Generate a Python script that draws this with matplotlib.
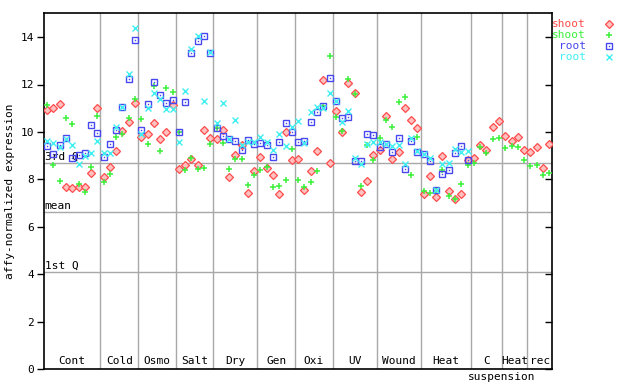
import numpy as np
import matplotlib
matplotlib.use("Agg")
import matplotlib.pyplot as plt

plt.rcParams['font.family'] = ['DejaVu Sans Mono']

groups = ["Cont", "Cold", "Osmo", "Salt", "Dry", "Gen", "Oxi", "UV",
          "Wound", "Heat", "C", "Heat", "rec"]
group_sizes = [9, 6, 6, 6, 7, 6, 6, 7, 7, 8, 5, 4, 4]

shoot_red = [10.91, 11.01, 11.17, 7.68, 7.63, 7.70, 7.69, 8.27, 11.01,
             8.10, 8.52, 9.19, 10.05, 10.42, 11.22,
             9.78, 9.92, 10.37, 9.70, 9.99, 11.15,
             8.43, 8.62, 8.86, 8.59, 10.08, 9.74,
             9.70, 10.08, 8.10, 9.03, 9.45, 7.42, 8.36,
             8.94, 8.48, 8.18, 7.38, 9.99, 8.81,
             8.86, 7.55, 8.35, 9.19, 12.19, 8.69,
             10.88, 9.99, 12.06, 11.64, 7.47, 7.93, 9.02,
             9.24, 10.68, 8.86, 9.15, 11.01, 10.50, 10.16,
             7.38, 8.14, 7.25, 8.98, 7.51, 7.17, 7.38, 8.81,
             8.90, 9.45, 9.24, 10.21, 10.46,
             9.83, 9.62, 9.78, 9.24,
             9.15, 9.36, 8.48, 9.49]

shoot_green = [11.15, 8.60, 7.94, 10.58, 10.33, 7.80, 7.48, 8.52, 10.68,
               7.89, 8.22, 9.78, 9.92, 10.58, 11.39,
               10.54, 9.49, 11.92, 9.19, 11.85, 11.68,
               9.99, 8.39, 8.90, 8.43, 8.48, 9.49,
               10.16, 9.53, 8.43, 8.88, 8.86, 7.76, 8.18,
               8.39, 8.52, 7.68, 7.72, 7.97, 9.28,
               7.97, 7.68, 7.89, 8.35, 11.09, 13.20,
               10.63, 10.04, 12.23, 11.60, 7.72, 9.45, 8.81,
               9.74, 10.50, 10.21, 11.26, 11.47, 8.18, 9.78,
               7.51, 7.42, 7.51, 8.39, 7.30, 7.17, 7.80, 8.60,
               8.69, 9.36, 9.11, 9.70, 9.74,
               9.32, 9.40, 9.36, 8.81,
               8.56, 8.60, 8.18, 8.27]

nan = np.nan
root_blue = [9.42, 9.07, 9.45, 9.73, 8.90, 9.03, 9.12, 10.30, 9.95,
             8.93, 9.49, 10.08, 11.05, 12.23, 13.87,
             10.08, 11.17, 12.10, 11.55, 11.22, 11.34,
             9.99, 11.26, 13.32, 13.83, 14.04, 13.31,
             10.16, 9.83, 9.70, 9.62, 9.24, 9.66, 9.49,
             9.53, 9.45, 8.94, 9.57, 10.37, 9.99,
             9.57, 9.62, 10.42, 10.84, 11.09, 12.27,
             11.30, 10.58, 10.63, 8.77, 8.77, 9.91, 9.87,
             9.35, 9.49, 9.15, 9.74, 8.46, 9.62, 9.15,
             9.07, 8.77, 7.55, 8.22, 8.39, 9.11, 9.40, 8.81,
             nan, nan, nan, nan, nan,
             nan, nan, nan, nan,
             nan, nan, nan, nan]

root_cyan = [9.64, 9.54, 9.35, 9.71, 9.45, 8.67, 8.98, 9.12, 9.61,
             9.12, 9.12, 10.22, 11.05, 12.44, 14.38,
             9.91, 11.01, 11.64, 11.37, 10.96, 10.96,
             9.59, 11.72, 13.48, 14.04, 11.32, 13.37,
             10.37, 11.22, 9.70, 10.50, 9.45, 9.59, 9.56,
             9.78, 9.59, 9.24, 9.91, 9.40, 10.21,
             10.46, 9.53, 10.84, 11.05, 11.01, 11.64,
             11.30, 10.42, 10.88, 8.90, 8.65, 9.49, 9.57,
             9.57, 9.49, 9.40, 9.45, 8.65, 9.74, 9.19,
             9.07, 8.90, 7.55, 8.65, 8.69, 9.28, 9.15, 9.19,
             nan, nan, nan, nan, nan,
             nan, nan, nan, nan,
             nan, nan, nan, nan]

ref_lines = {"3rd Q": 8.68, "mean": 6.61, "1st Q": 4.08}

RED = "#ff4c4c"
GREEN = "#3cf03c"
BLUE = "#4848f0"
CYAN = "#40f0f0"
GRID = "#a8a8a8"

MK_RED = dict(marker='D', ms=3.6, mfc='#ffc0c0', mec=RED, mew=0.9)
MK_GREEN = dict(marker='+', ms=5.0, mec=GREEN, mew=1.1)
MK_BLUE = dict(marker='s', ms=3.9, mfc='none', mec=BLUE, mew=1.0)
MK_BLUE_DOT = dict(marker='s', ms=1.0, mfc=BLUE, mec=BLUE, mew=0)
MK_CYAN = dict(marker='x', ms=4.2, mec=CYAN, mew=1.0)

fig = plt.figure(figsize=(6.4, 3.84), dpi=100)
ax = fig.add_axes([44 / 640, 1 - 369.3 / 384, (552.3 - 44) / 640, (369.3 - 13.3) / 384])

n = sum(group_sizes)
x = np.arange(n) + 0.5
ax.set_xlim(0, n)
ax.set_ylim(0, 15)

# grid lines
bounds = np.cumsum(group_sizes)[:-1]
for b in bounds:
    ax.axvline(b, color=GRID, lw=1.0, zorder=1)
for lab, v in ref_lines.items():
    ax.axhline(v, color=GRID, lw=1.0, zorder=1)
    ax.text(0.1, v + 0.07, lab, fontsize=8, ha='left', va='bottom', zorder=2)

# data
ax.plot(x, shoot_red, linestyle='none', zorder=3, **MK_RED)
ax.plot(x, shoot_green, linestyle='none', zorder=3, **MK_GREEN)
ax.plot(x, root_blue, linestyle='none', zorder=3, **MK_BLUE)
ax.plot(x, root_blue, linestyle='none', zorder=3, **MK_BLUE_DOT)
ax.plot(x, root_cyan, linestyle='none', zorder=3, **MK_CYAN)

# group labels
starts = np.concatenate([[0], bounds])
trans = ax.get_xaxis_transform()
for g, s, sz in zip(groups, starts, group_sizes):
    ax.text(s + sz / 2, 0.008, g, fontsize=8, ha='center', va='bottom',
            transform=trans)
ax.text(73.0, -0.021, "suspension", fontsize=8, ha='center', va='center',
        transform=trans, clip_on=False)

# axes styling
ax.set_xticks([])
ax.set_yticks(np.arange(0, 15, 2))
ax.tick_params(axis='y', which='both', direction='out', length=5, width=1,
               labelsize=8, right=True, pad=2)
for sp in ax.spines.values():
    sp.set_color('black')
    sp.set_linewidth(1.2)
ax.set_ylabel("affy-normalized expression", fontsize=8, labelpad=4)
for t in ax.yaxis.get_major_ticks():
    t.tick2line.set_marker(matplotlib.markers.TICKLEFT)
    t.tick2line.set_markersize(5)

# legend (manual)
leg_labels = ["shoot", "shoot", "root", "root"]
leg_colors = [RED, GREEN, BLUE, CYAN]
leg_y = [23.7, 34.7, 45.7, 56.7]
for lab, c, yy in zip(leg_labels, leg_colors, leg_y):
    fig.text(586 / 640, 1 - yy / 384, lab, color=c, fontsize=8,
             ha='right', va='center')
mk_x = 609 / 640
for mk, yy in zip([MK_RED, MK_GREEN, MK_BLUE, MK_CYAN], leg_y):
    ax.plot([mk_x], [1 - yy / 384], transform=fig.transFigure,
            clip_on=False, **mk)
ax.plot([mk_x], [1 - 45.7 / 384], transform=fig.transFigure, clip_on=False,
        **MK_BLUE_DOT)

fig.savefig("out.png", dpi=100)
